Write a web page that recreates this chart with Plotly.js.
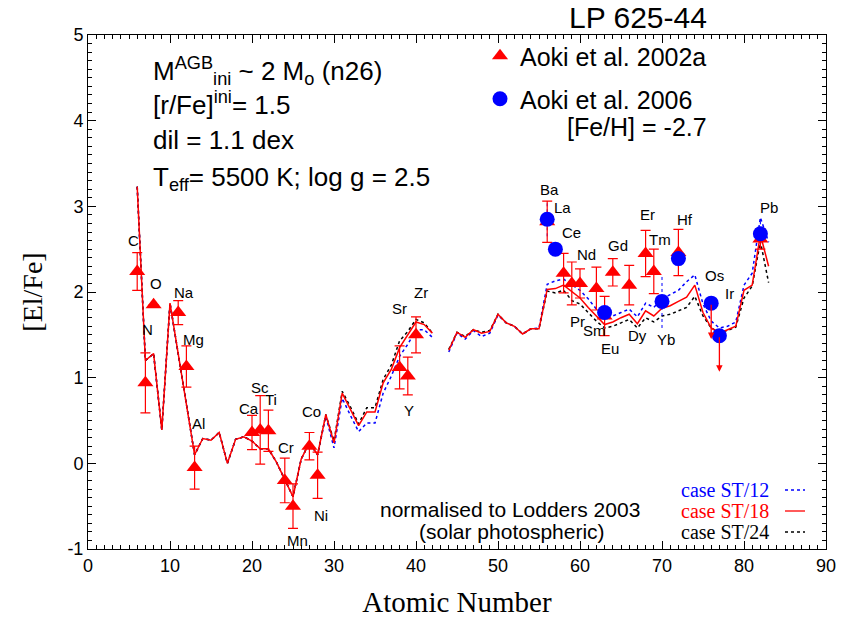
<!DOCTYPE html>
<html>
<head>
<meta charset="utf-8">
<script src="https://cdn.plot.ly/plotly-3.0.1.min.js"></script>
<style>html,body{margin:0;padding:0;background:#fff;}#chart{width:844px;height:618px;}</style>
</head>
<body>
<div id="chart"></div>
<script>
// ---- model curves (atomic number 6..83, null = not plotted) ----
const Z = [];
for (let z = 6; z <= 83; z++) Z.push(z);

const caseST18 = [3.23,1.20,1.28,0.39,1.87,1.27,0.72,0.10,0.29,0.27,0.36,0.00,0.28,0.31,0.26,0.17,0.17,0.01,-0.19,-0.39,0.05,0.24,0.10,0.57,0.24,
  0.82,0.63,0.44,0.60,0.60,0.94,1.10,1.35,1.50,1.65,1.62,1.52,null,
  1.32,1.53,1.47,1.56,1.52,1.54,1.74,1.64,1.60,1.51,1.57,1.57,2.03,2.04,2.08,2.00,1.93,1.82,1.72,1.62,1.65,1.70,1.74,1.63,1.78,1.72,1.81,1.84,1.89,1.94,2.08,1.76,1.58,1.52,1.56,1.60,2.02,2.08,2.67,2.30];
const caseST12 = [3.23,1.20,1.28,0.39,1.87,1.27,0.72,0.10,0.29,0.27,0.36,0.00,0.28,0.31,0.26,0.17,0.17,0.01,-0.19,-0.39,0.05,0.24,0.10,0.55,0.18,
  0.76,0.56,0.37,0.47,0.47,0.82,1.02,1.25,1.39,1.56,1.56,1.47,null,
  1.30,1.52,1.45,1.55,1.48,1.52,1.73,1.64,1.60,1.51,1.57,1.58,2.09,2.13,2.15,2.08,2.02,1.92,1.80,1.70,1.72,1.76,1.80,1.71,1.87,1.82,1.92,1.97,2.02,2.12,2.20,1.86,1.66,1.58,1.60,1.65,2.08,2.22,2.87,2.58];
const caseST24 = [3.23,1.20,1.28,0.39,1.87,1.27,0.72,0.10,0.29,0.27,0.36,0.00,0.28,0.31,0.26,0.17,0.17,0.01,-0.19,-0.39,0.05,0.24,0.10,0.57,0.26,
  0.84,0.66,0.46,0.65,0.65,0.98,1.15,1.43,1.54,1.68,1.64,1.52,null,
  1.33,1.53,1.48,1.56,1.53,1.55,1.74,1.64,1.60,1.51,1.57,1.57,2.01,1.99,2.02,1.90,1.86,1.76,1.66,1.58,1.60,1.64,1.68,1.58,1.70,1.65,1.72,1.74,1.78,1.82,1.95,1.72,1.58,1.53,1.55,1.59,1.93,2.07,2.59,2.11];

// ---- observations: Aoki et al. 2002a ----
const aoki02El  = ['C','N','O','Na','Mg','Al','Ca','Sc','Ti','Cr','Mn','Co','Ni','Sr','Y','Zr','Ba','Ce','Pr','Nd','Sm','Eu','Gd','Dy','Er','Tm','Hf','Pb'];
const aoki02Z   = [6,7,8,11,12,13,20,21,22,24,25,27,28,38,39,40,56,58,59,60,62,63,64,66,68,69,72,82];
const aoki02Val = [2.24,0.94,1.85,1.76,1.13,-0.05,0.36,0.39,0.38,-0.20,-0.50,0.20,-0.14,1.12,1.02,1.50,2.82,2.22,2.10,2.10,2.04,1.72,2.23,2.08,2.45,2.24,2.46,2.62];
const aoki02Err = [0.22,0.35,0,0.14,0.24,0.25,0.20,0.40,0.24,0.26,0.26,0.16,0.27,0.25,0.22,0.21,0.24,0.23,0.25,0.17,0.25,0.23,0.16,0.23,0.27,0.26,0.27,0.12];

// ---- observations: Aoki et al. 2006 ----
const aoki06El  = ['Ba','La','Eu','Yb','Hf','Os','Ir','Pb'];
const aoki06Z   = [56,57,63,70,72,76,77,82];
const aoki06Val = [2.85,2.50,1.76,1.89,2.39,1.87,1.49,2.68];
const aoki06Err = [0.20,0.06,0.10,0.31,0.10,0,0,0.17];
const upperLimitEl = ['Os','Ir'];
const upperLimitZ = [76,77];
const upperLimitVal = [1.87,1.49];

// ---- element labels (name, Z position, [El/Fe] position) ----
const labels = [
  ['C',5.6,2.60],['N',7.3,1.56],['O',8.3,2.10],['Na',11.7,2.00],['Mg',12.9,1.45],['Al',13.5,0.46],
  ['Ca',19.6,0.64],['Sc',21.0,0.89],['Ti',22.3,0.74],['Cr',24.1,0.19],['Mn',25.5,-0.90],['Co',27.3,0.60],['Ni',28.4,-0.61],
  ['Sr',38.0,1.81],['Zr',40.6,2.00],['Y',39.2,0.62],
  ['Ba',56.3,3.20],['La',57.9,2.99],['Ce',59.0,2.70],['Nd',60.8,2.44],['Pr',59.7,1.65],['Sm',61.8,1.55],['Eu',63.6,1.34],
  ['Gd',64.6,2.54],['Dy',67.0,1.49],['Er',68.2,2.90],['Tm',69.7,2.61],['Yb',70.5,1.45],['Hf',72.8,2.85],
  ['Os',76.4,2.19],['Ir',78.2,1.98],['Pb',83.1,2.99]
];

const xTicks = [0,10,20,30,40,50,60,70,80,90];
const yTicks = [-1,0,1,2,3,4,5];
const yTickText = ['-1','0','1','2','3','4','5'];

// dotted error bars for Aoki 2006 built from data
const e06x = [], e06y = [];
aoki06Z.forEach((z,i)=>{ if (aoki06Err[i]>0){ e06x.push(z,z,null); e06y.push(aoki06Val[i]-aoki06Err[i], aoki06Val[i]+aoki06Err[i], null);} });

const SANS = 'Liberation Sans, Arial, sans-serif';
const SERIF = 'Liberation Serif, Times New Roman, serif';

const traces = [
  {x:Z, y:caseST12, mode:'lines', line:{color:'#0000ff', width:1.5, dash:'dot'}, connectgaps:false, showlegend:false, name:'case ST/12'},
  {x:Z, y:caseST24, mode:'lines', line:{color:'#000000', width:1.5, dash:'dot'}, connectgaps:false, showlegend:false, name:'case ST/24'},
  {x:Z, y:caseST18, mode:'lines', line:{color:'#ff0000', width:1.5}, connectgaps:false, showlegend:false, name:'case ST/18'},
  {x:e06x, y:e06y, mode:'lines', line:{color:'#0000ff', width:1, dash:'dot'}, showlegend:false, hoverinfo:'skip'},
  {x:aoki02Z, y:aoki02Val, mode:'markers', name:'Aoki et al. 2002a', legend:'legend',
   marker:{symbol:'triangle-up', size:14, color:'#ff0000'},
   error_y:{type:'data', array:aoki02Err, visible:true, color:'#ff0000', thickness:1.2, width:5}},
  {x:aoki06Z, y:aoki06Val, mode:'markers', name:'Aoki et al. 2006', legend:'legend2',
   marker:{symbol:'circle', size:15, color:'#0000ff'}}
];

const ann = [];
labels.forEach(l => ann.push({x:l[1], y:l[2], xref:'x', yref:'y', xanchor:'center', yanchor:'middle', text:l[0], showarrow:false, font:{family:SANS, size:15, color:'#000'}}));
upperLimitZ.forEach((z,i)=> ann.push({x:z, y:upperLimitVal[i]-0.42, ax:z, ay:upperLimitVal[i], xref:'x', yref:'y', axref:'x', ayref:'y',
  showarrow:true, arrowhead:2, arrowsize:1, arrowwidth:1.3, arrowcolor:'#ff0000', text:''}));

const px = v => (v-88)/738, py = v => (549-v)/514;
function pAnn(x, y, text, opts) {
  ann.push(Object.assign({xref:'paper', yref:'paper', x:px(x), y:py(y), xanchor:'center', yanchor:'middle', text:text, showarrow:false,
    font:{family:SANS, size:26, color:'#000'}}, opts||{}));
}
pAnn(638, 18, 'LP 625-44', {font:{family:SANS, size:30, color:'#000'}});
const infoLines = ['M<sup>AGB</sup><sub>ini</sub> ~ 2 M<sub>o</sub> (n26)', '[r/Fe]<sup>ini</sup>= 1.5', 'dil = 1.1 dex', 'T<sub>eff</sub>= 5500 K; log g = 2.5'];
const infoY = [71,104,140,178];
infoLines.forEach((t,i)=> pAnn(151, infoY[i], t, {xanchor:'left'}));
pAnn(709, 127, '[Fe/H] = -2.7', {xanchor:'right', font:{family:SANS, size:25, color:'#000'}});
pAnn(510, 509, 'normalised to Lodders 2003', {font:{family:SANS, size:21, color:'#000'}});
pAnn(512, 531, '(solar photospheric)', {font:{family:SANS, size:21, color:'#000'}});
const caseNames = ['case ST/12','case ST/18','case ST/24'];
const caseColors = ['#0000ff','#ff0000','#000000'];
const caseY = [490,511,532];
const shapes = [];
caseNames.forEach((n,i)=>{
  pAnn(771, caseY[i], n, {xanchor:'right', font:{family:SERIF, size:20, color:caseColors[i]}});
  shapes.push({type:'line', xref:'paper', yref:'paper', x0:px(785), x1:px(805), y0:py(caseY[i]), y1:py(caseY[i]),
    line:{color:caseColors[i], width:1.3, dash: i===1 ? 'solid' : 'dot'}});
});

const axisCommon = {showline:true, linecolor:'#000', linewidth:1, mirror:'allticks', ticks:'inside', ticklen:8, tickcolor:'#000', tickwidth:1,
  showgrid:false, zeroline:false, tickfont:{family:SANS, size:18, color:'#000'}};

const layout = {
  width:844, height:618, paper_bgcolor:'#fff', plot_bgcolor:'#fff',
  margin:{l:88, r:18, t:35, b:69},
  xaxis:Object.assign({}, axisCommon, {range:[0,90], tickvals:xTicks, ticktext:xTicks.map(String),
    minor:{dtick:1, ticks:'inside', ticklen:4, tickcolor:'#000'},
    title:{text:'Atomic Number', font:{family:SERIF, size:29, color:'#000'}, standoff:17}}),
  yaxis:Object.assign({}, axisCommon, {range:[-1,5], tickvals:yTicks, ticktext:yTickText,
    minor:{dtick:0.1, ticks:'inside', ticklen:4, tickcolor:'#000'},
    title:{text:'[El/Fe]', font:{family:SERIF, size:28, color:'#000'}, standoff:16}}),
  showlegend:true,
  legend:{x:px(480), y:py(33), xanchor:'left', yanchor:'top', bgcolor:'rgba(0,0,0,0)', font:{family:SANS, size:25, color:'#000'}, itemwidth:30},
  legend2:{x:px(480), y:py(76), xanchor:'left', yanchor:'top', bgcolor:'rgba(0,0,0,0)', font:{family:SANS, size:25, color:'#000'}, itemwidth:30},
  annotations:ann, shapes:shapes
};

Plotly.newPlot('chart', traces, layout, {staticPlot:true, displayModeBar:false});
</script>
</body>
</html>
